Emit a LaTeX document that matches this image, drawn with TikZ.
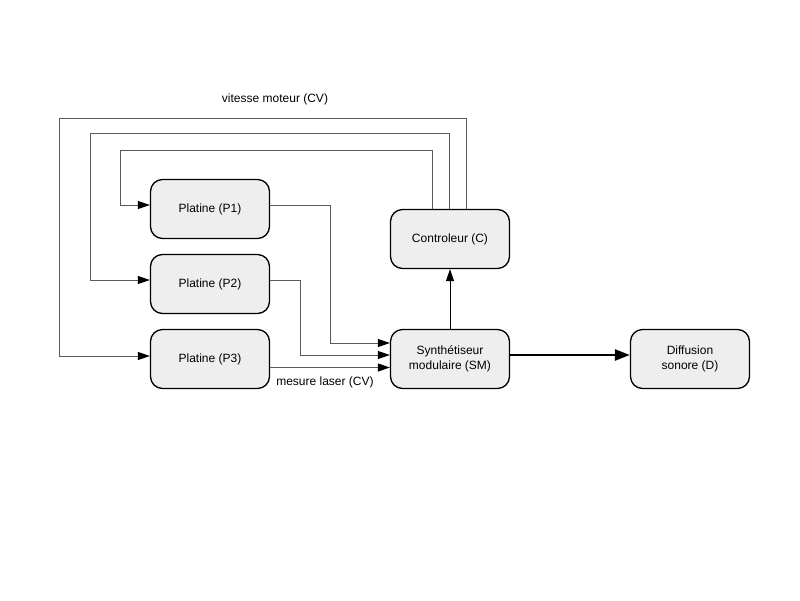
\documentclass[tikz,border=0pt]{standalone}
\usepackage{fontspec}
\setmainfont{Liberation Sans}
\usetikzlibrary{arrows.meta}
\definecolor{boxgray}{HTML}{EEEEEE}
\definecolor{linegray}{HTML}{5A5A5A}
\begin{document}
\begin{tikzpicture}[x=1pt,y=-1pt,
  box/.style={draw=black, line width=1.3pt, fill=boxgray, rounded corners=12pt,
    minimum width=119pt, minimum height=59pt, align=center,
    font=\fontsize{12}{14.5}\selectfont},
  tip/.style={-{Triangle[length=12pt,width=8pt,color=black]}},
  conn/.style={draw=linegray, line width=1pt, tip},
  fb/.style={draw=linegray, line width=1pt, tip},
  thick arrow/.style={draw=black, line width=2.6pt, -{Triangle[length=15pt,width=11pt]}},
  lbl/.style={font=\fontsize{12}{14}\selectfont}]
\useasboundingbox (0,0) rectangle (800,600);

\node[box] (P1) at (210,209) {Platine (P1)};
\node[box] (P2) at (210,284) {Platine (P2)};
\node[box] (P3) at (210,359) {Platine (P3)};
\node[box] (C)  at (450,239) {Controleur (C)};
\node[box] (SM) at (450,359) {Synthétiseur\\modulaire (SM)};
\node[box] (D)  at (690,359) {Diffusion\\sonore (D)};

% inputs to SM
\draw[conn] ([yshift=4pt]P1.east) -- (330,205) |- ([yshift=16pt]SM.west);
\draw[conn] ([yshift=4pt]P2.east) -- (300,280) |- ([yshift=4pt]SM.west);
\draw[conn] ([yshift=-8.5pt]P3.east) -- ([yshift=-8.5pt]SM.west);

% SM to C and D
\draw[draw=black, line width=1pt, tip] (SM.north) -- (C.south);
\draw[thick arrow] ([yshift=4pt]SM.east) -- ([yshift=4pt]D.west);

% feedback lines
\draw[fb] ([xshift=-18pt]C.north) |- (120,150) |- ([yshift=4pt]P1.west);
\draw[fb] ([xshift=-1pt]C.north) |- (90,133) |- ([yshift=4pt]P2.west);
\draw[fb] ([xshift=16pt]C.north) |- (59,118) |- ([yshift=3pt]P3.west);

% labels
\node[lbl] (lv) at (275,99) {vitesse moteur (CV)};
\node[lbl] (lm) at (325,382) {mesure laser (CV)};
\end{tikzpicture}
\end{document}
